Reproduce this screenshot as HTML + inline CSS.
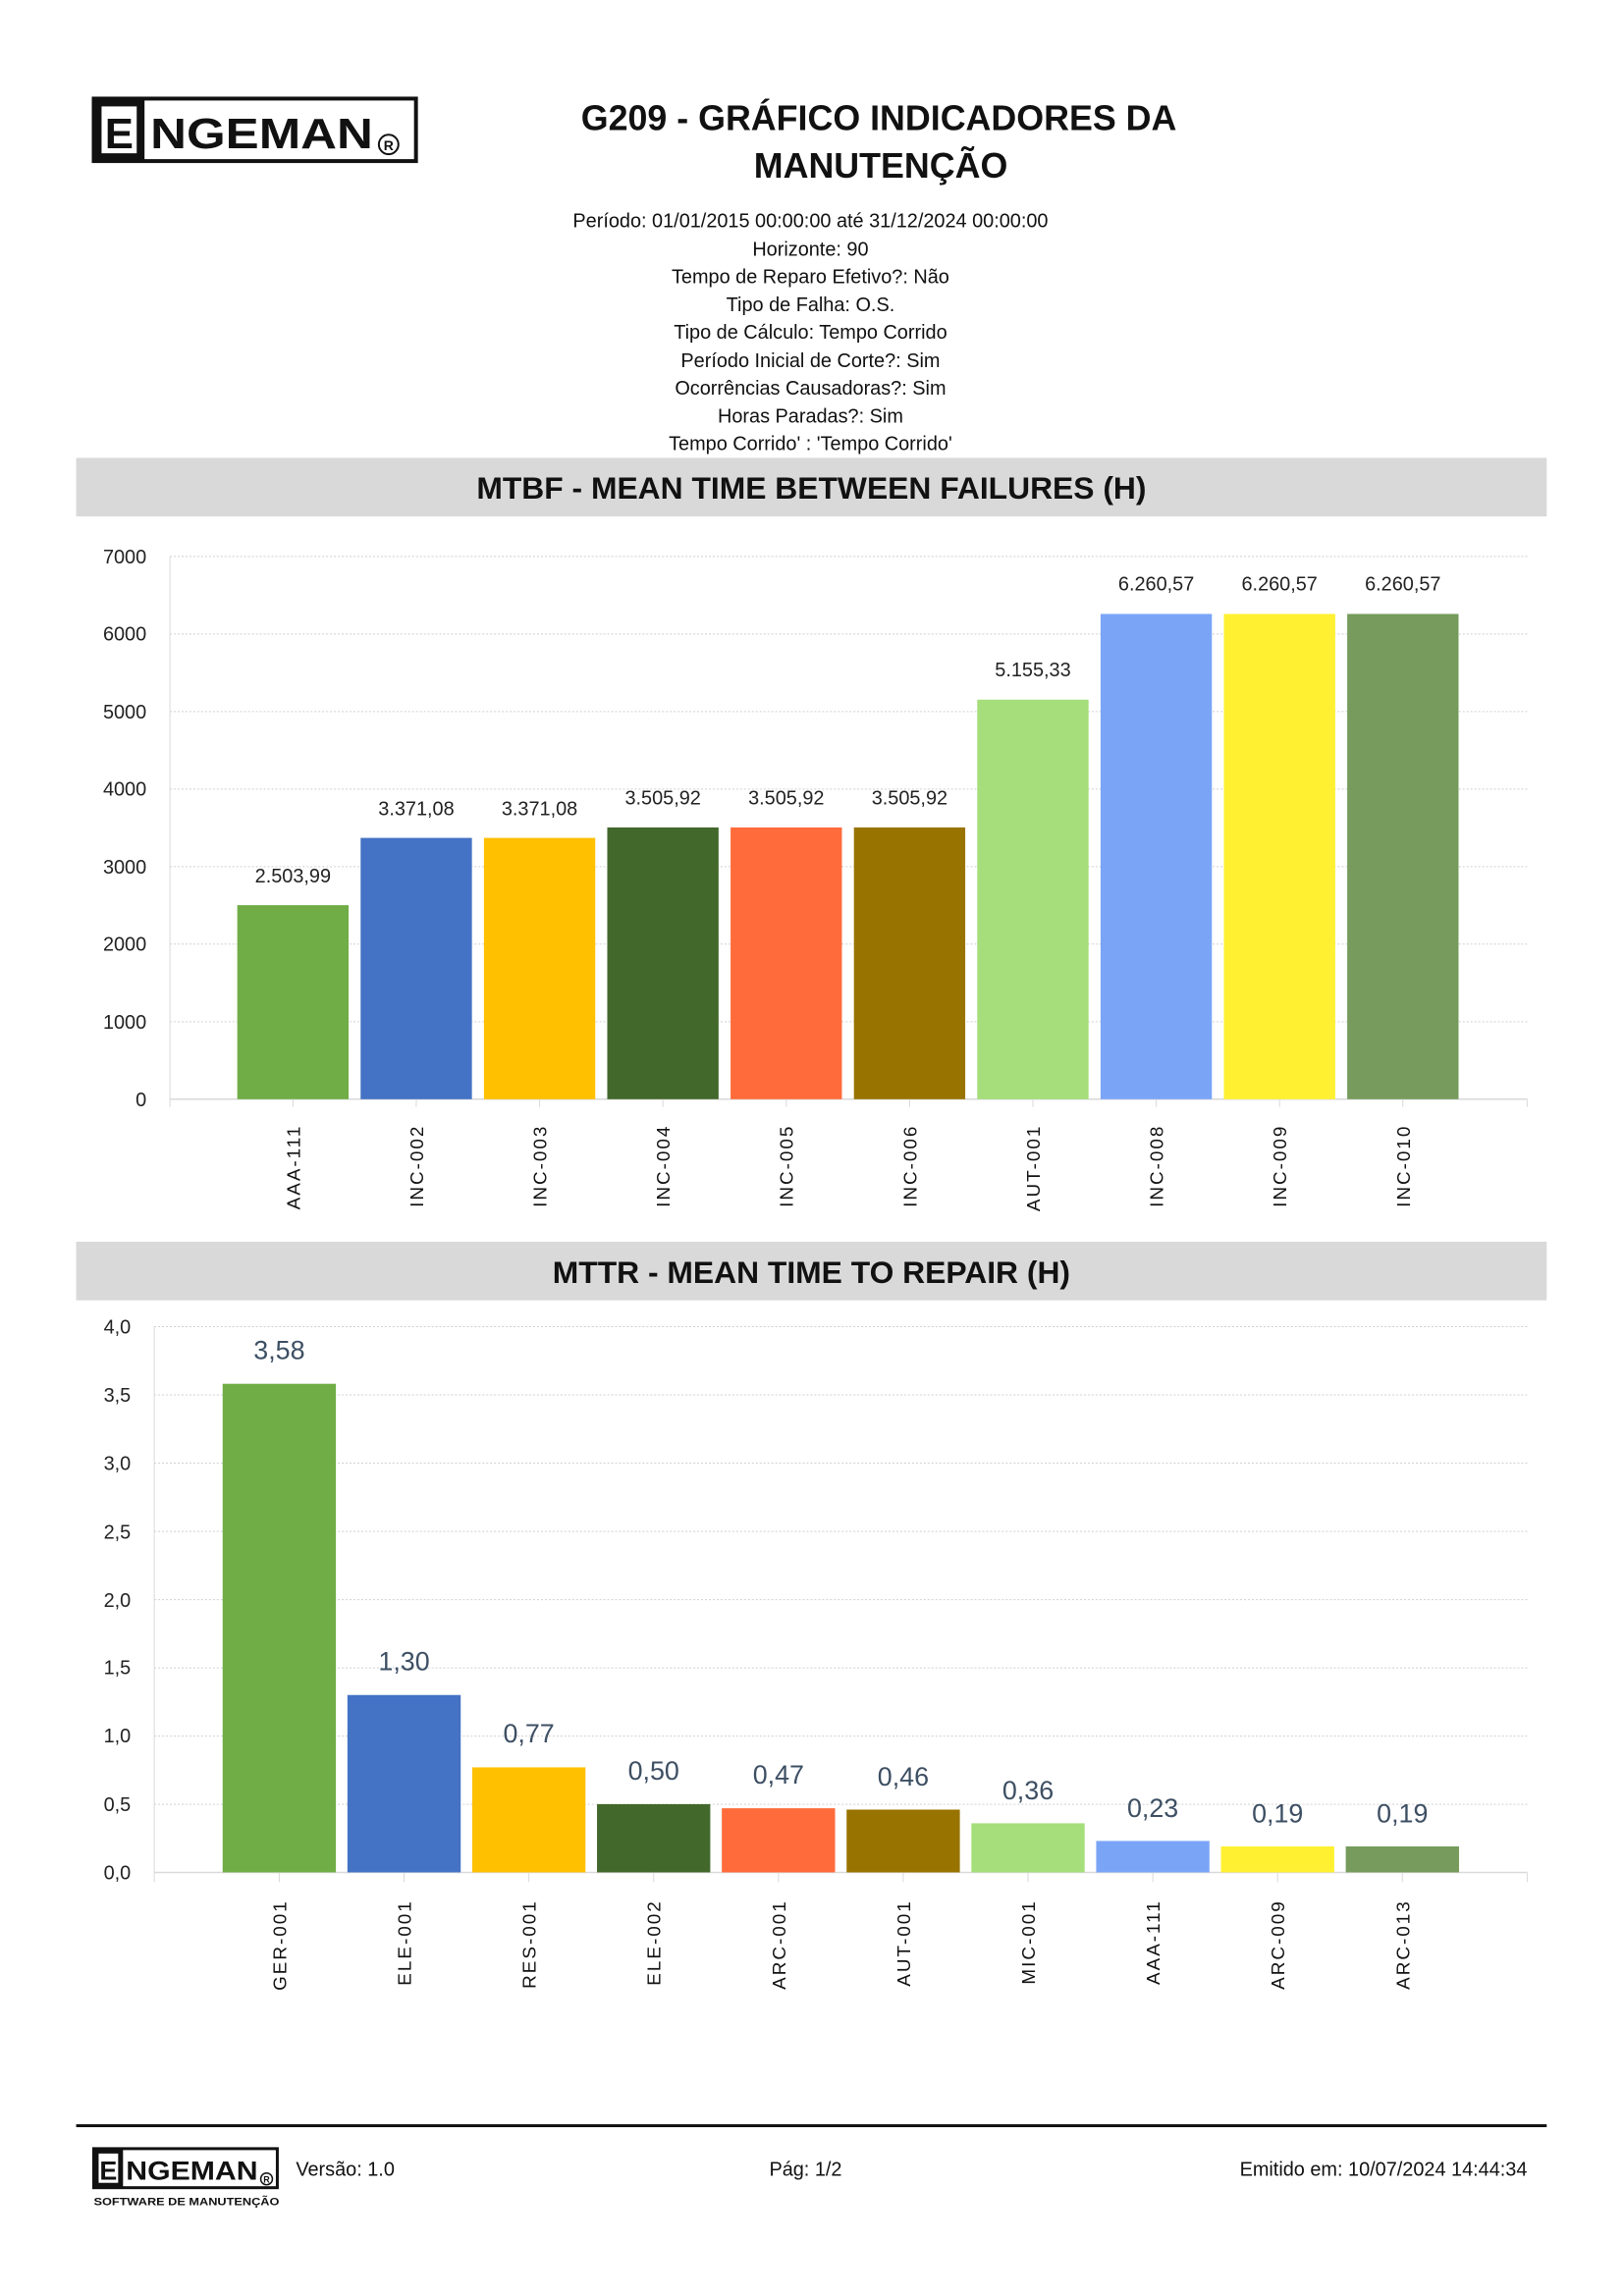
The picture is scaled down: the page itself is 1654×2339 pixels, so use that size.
<!DOCTYPE html>
<html><head><meta charset="utf-8"><style>
html,body{margin:0;padding:0;background:#fff}
svg{display:block}
text{font-family:"Liberation Sans",sans-serif}
</style></head><body>
<svg width="1654" height="2339" viewBox="0 0 1654 2339" xmlns="http://www.w3.org/2000/svg">
<g transform="scale(0.9945)">
<!-- Logo -->
<rect x="96" y="101" width="330" height="64" fill="#fff" stroke="#111" stroke-width="4"/>
<rect x="96" y="101" width="52" height="64" fill="#111"/>
<rect x="104" y="109" width="36" height="48" fill="#fff"/>
<text x="122" y="152" font-size="44" font-weight="bold" text-anchor="middle" fill="#111">E</text>
<text x="154" y="152" font-size="44" font-weight="bold" fill="#111" textLength="228" lengthAdjust="spacingAndGlyphs">NGEMAN</text>
<circle cx="398" cy="148" r="10" fill="none" stroke="#111" stroke-width="2"/>
<text x="398" y="154" font-size="14" font-weight="bold" text-anchor="middle" fill="#111">R</text>

<!-- Title -->
<text x="900" y="133" font-size="36" font-weight="bold" text-anchor="middle" fill="#111">G209 - GRÁFICO INDICADORES DA</text>
<text x="902" y="182" font-size="36" font-weight="bold" text-anchor="middle" fill="#111">MANUTENÇÃO</text>
<g font-size="20" text-anchor="middle" fill="#111">
<text x="830" y="233">Período: 01/01/2015 00:00:00  até  31/12/2024 00:00:00</text>
<text x="830" y="262">Horizonte: 90</text>
<text x="830" y="290">Tempo de Reparo Efetivo?: Não</text>
<text x="830" y="319">Tipo de Falha: O.S.</text>
<text x="830" y="347">Tipo de Cálculo: Tempo Corrido</text>
<text x="830" y="376">Período Inicial de Corte?: Sim</text>
<text x="830" y="404">Ocorrências Causadoras?: Sim</text>
<text x="830" y="433">Horas Paradas?: Sim</text>
<text x="830" y="461">Tempo Corrido' : 'Tempo Corrido'</text>
</g>

<!-- MTBF band -->
<rect x="78" y="469" width="1506" height="60" fill="#d9d9d9"/>
<text x="831" y="511" font-size="32" font-weight="bold" text-anchor="middle" fill="#111">MTBF - MEAN TIME BETWEEN FAILURES (H)</text>

<!-- Chart 1 grid -->
<g stroke="#d0d0d0" stroke-width="1" stroke-dasharray="2,2">
<line x1="174" x2="1564" y1="570" y2="570"/>
<line x1="174" x2="1564" y1="649.4" y2="649.4"/>
<line x1="174" x2="1564" y1="728.9" y2="728.9"/>
<line x1="174" x2="1564" y1="808.3" y2="808.3"/>
<line x1="174" x2="1564" y1="887.7" y2="887.7"/>
<line x1="174" x2="1564" y1="967.1" y2="967.1"/>
<line x1="174" x2="1564" y1="1046.6" y2="1046.6"/>
</g>
<line x1="174" x2="174" y1="570" y2="1134" stroke="#d9d9d9"/>
<line x1="174" x2="1564" y1="1126" y2="1126" stroke="#d9d9d9" stroke-width="1.5"/>
<line x1="1564" x2="1564" y1="1126" y2="1134" stroke="#d9d9d9"/>
<g font-size="20" text-anchor="end" fill="#222">
<text x="150" y="577">7000</text>
<text x="150" y="656">6000</text>
<text x="150" y="736">5000</text>
<text x="150" y="815">4000</text>
<text x="150" y="895">3000</text>
<text x="150" y="974">2000</text>
<text x="150" y="1054">1000</text>
<text x="150" y="1133">0</text>
</g>
<g>
<rect x="243" y="927.2" width="114" height="198.8" fill="#70ad47"/>
<rect x="369.3" y="858.3" width="114" height="267.7" fill="#4472c4"/>
<rect x="495.6" y="858.3" width="114" height="267.7" fill="#ffc000"/>
<rect x="621.9" y="847.6" width="114" height="278.4" fill="#43682b"/>
<rect x="748.2" y="847.6" width="114" height="278.4" fill="#ff6b3b"/>
<rect x="874.5" y="847.6" width="114" height="278.4" fill="#997300"/>
<rect x="1000.8" y="716.7" width="114" height="409.3" fill="#a5de7a"/>
<rect x="1127.1" y="628.9" width="114" height="497.1" fill="#7aa5f7"/>
<rect x="1253.4" y="628.9" width="114" height="497.1" fill="#fff032"/>
<rect x="1379.7" y="628.9" width="114" height="497.1" fill="#769b5c"/>
</g>
<g stroke="#d9d9d9"><line x1="300" x2="300" y1="1126" y2="1134"/><line x1="426.3" x2="426.3" y1="1126" y2="1134"/><line x1="552.6" x2="552.6" y1="1126" y2="1134"/><line x1="678.9" x2="678.9" y1="1126" y2="1134"/><line x1="805.2" x2="805.2" y1="1126" y2="1134"/><line x1="931.5" x2="931.5" y1="1126" y2="1134"/><line x1="1057.8" x2="1057.8" y1="1126" y2="1134"/><line x1="1184.1" x2="1184.1" y1="1126" y2="1134"/><line x1="1310.4" x2="1310.4" y1="1126" y2="1134"/><line x1="1436.7" x2="1436.7" y1="1126" y2="1134"/></g>
<g font-size="20" text-anchor="middle" fill="#222">
<text x="300" y="904">2.503,99</text>
<text x="426.3" y="835">3.371,08</text>
<text x="552.6" y="835">3.371,08</text>
<text x="678.9" y="824">3.505,92</text>
<text x="805.2" y="824">3.505,92</text>
<text x="931.5" y="824">3.505,92</text>
<text x="1057.8" y="693">5.155,33</text>
<text x="1184.1" y="605">6.260,57</text>
<text x="1310.4" y="605">6.260,57</text>
<text x="1436.7" y="605">6.260,57</text>
</g>
<g font-size="19" text-anchor="end" fill="#111" letter-spacing="2">
<text transform="translate(307,1152) rotate(-90)">AAA-111</text>
<text transform="translate(433.3,1152) rotate(-90)">INC-002</text>
<text transform="translate(559.6,1152) rotate(-90)">INC-003</text>
<text transform="translate(685.9,1152) rotate(-90)">INC-004</text>
<text transform="translate(812.2,1152) rotate(-90)">INC-005</text>
<text transform="translate(938.5,1152) rotate(-90)">INC-006</text>
<text transform="translate(1064.8,1152) rotate(-90)">AUT-001</text>
<text transform="translate(1191.1,1152) rotate(-90)">INC-008</text>
<text transform="translate(1317.4,1152) rotate(-90)">INC-009</text>
<text transform="translate(1443.7,1152) rotate(-90)">INC-010</text>
</g>

<!-- MTTR band -->
<rect x="78" y="1272" width="1506" height="60" fill="#d9d9d9"/>
<text x="831" y="1314" font-size="32" font-weight="bold" text-anchor="middle" fill="#111">MTTR - MEAN TIME TO REPAIR (H)</text>

<!-- Chart 2 grid -->
<g stroke="#d0d0d0" stroke-width="1" stroke-dasharray="2,2">
<line x1="158" x2="1564" y1="1359" y2="1359"/>
<line x1="158" x2="1564" y1="1428.9" y2="1428.9"/>
<line x1="158" x2="1564" y1="1498.8" y2="1498.8"/>
<line x1="158" x2="1564" y1="1568.7" y2="1568.7"/>
<line x1="158" x2="1564" y1="1638.6" y2="1638.6"/>
<line x1="158" x2="1564" y1="1708.5" y2="1708.5"/>
<line x1="158" x2="1564" y1="1778.4" y2="1778.4"/>
<line x1="158" x2="1564" y1="1848.3" y2="1848.3"/>
</g>
<line x1="158" x2="158" y1="1359" y2="1928" stroke="#d9d9d9"/>
<line x1="158" x2="1564" y1="1918" y2="1918" stroke="#d9d9d9" stroke-width="1.5"/>
<line x1="1564" x2="1564" y1="1918" y2="1928" stroke="#d9d9d9"/>
<g font-size="20" text-anchor="end" fill="#222">
<text x="134" y="1366">4,0</text>
<text x="134" y="1436">3,5</text>
<text x="134" y="1506">3,0</text>
<text x="134" y="1576">2,5</text>
<text x="134" y="1646">2,0</text>
<text x="134" y="1715">1,5</text>
<text x="134" y="1785">1,0</text>
<text x="134" y="1855">0,5</text>
<text x="134" y="1925">0,0</text>
</g>
<g>
<rect x="228" y="1417.5" width="116" height="500.5" fill="#70ad47"/>
<rect x="355.8" y="1736.3" width="116" height="181.7" fill="#4472c4"/>
<rect x="483.6" y="1810.4" width="116" height="107.6" fill="#ffc000"/>
<rect x="611.4" y="1848.1" width="116" height="69.9" fill="#43682b"/>
<rect x="739.2" y="1852.3" width="116" height="65.7" fill="#ff6b3b"/>
<rect x="867" y="1853.7" width="116" height="64.3" fill="#997300"/>
<rect x="994.8" y="1867.7" width="116" height="50.3" fill="#a5de7a"/>
<rect x="1122.6" y="1885.8" width="116" height="32.2" fill="#7aa5f7"/>
<rect x="1250.4" y="1891.4" width="116" height="26.6" fill="#fff032"/>
<rect x="1378.2" y="1891.4" width="116" height="26.6" fill="#769b5c"/>
</g>
<g stroke="#d9d9d9"><line x1="286" x2="286" y1="1918" y2="1928"/><line x1="413.8" x2="413.8" y1="1918" y2="1928"/><line x1="541.6" x2="541.6" y1="1918" y2="1928"/><line x1="669.4" x2="669.4" y1="1918" y2="1928"/><line x1="797.2" x2="797.2" y1="1918" y2="1928"/><line x1="925" x2="925" y1="1918" y2="1928"/><line x1="1052.8" x2="1052.8" y1="1918" y2="1928"/><line x1="1180.6" x2="1180.6" y1="1918" y2="1928"/><line x1="1308.4" x2="1308.4" y1="1918" y2="1928"/><line x1="1436.2" x2="1436.2" y1="1918" y2="1928"/></g>
<g font-size="27" text-anchor="middle" fill="#3d4f63">
<text x="286" y="1392">3,58</text>
<text x="413.8" y="1711">1,30</text>
<text x="541.6" y="1785">0,77</text>
<text x="669.4" y="1823">0,50</text>
<text x="797.2" y="1827">0,47</text>
<text x="925" y="1829">0,46</text>
<text x="1052.8" y="1843">0,36</text>
<text x="1180.6" y="1861">0,23</text>
<text x="1308.4" y="1867">0,19</text>
<text x="1436.2" y="1867">0,19</text>
</g>
<g font-size="19" text-anchor="end" fill="#111" letter-spacing="2">
<text transform="translate(293,1946) rotate(-90)">GER-001</text>
<text transform="translate(420.8,1946) rotate(-90)">ELE-001</text>
<text transform="translate(548.6,1946) rotate(-90)">RES-001</text>
<text transform="translate(676.4,1946) rotate(-90)">ELE-002</text>
<text transform="translate(804.2,1946) rotate(-90)">ARC-001</text>
<text transform="translate(932,1946) rotate(-90)">AUT-001</text>
<text transform="translate(1059.8,1946) rotate(-90)">MIC-001</text>
<text transform="translate(1187.6,1946) rotate(-90)">AAA-111</text>
<text transform="translate(1315.4,1946) rotate(-90)">ARC-009</text>
<text transform="translate(1443.2,1946) rotate(-90)">ARC-013</text>
</g>

<!-- Footer -->
<rect x="78" y="2176" width="1506" height="3" fill="#111"/>
<rect x="96" y="2201" width="188" height="40" fill="#fff" stroke="#111" stroke-width="3"/>
<rect x="96" y="2201" width="30" height="40" fill="#111"/>
<rect x="101" y="2206" width="20" height="30" fill="#fff"/>
<text x="111" y="2233" font-size="27" font-weight="bold" text-anchor="middle" fill="#111">E</text>
<text x="129" y="2233" font-size="27" font-weight="bold" fill="#111" textLength="135" lengthAdjust="spacingAndGlyphs">NGEMAN</text>
<circle cx="273" cy="2232" r="6" fill="none" stroke="#111" stroke-width="1.5"/>
<text x="273" y="2236" font-size="9" font-weight="bold" text-anchor="middle" fill="#111">R</text>
<text x="96" y="2259" font-size="11" font-weight="bold" fill="#111" textLength="190" lengthAdjust="spacingAndGlyphs">SOFTWARE DE MANUTENÇÃO</text>
<text x="303" y="2229" font-size="20" fill="#111">Versão: 1.0</text>
<text x="825" y="2229" font-size="20" text-anchor="middle" fill="#111">Pág: 1/2</text>
<text x="1564" y="2229" font-size="20" text-anchor="end" fill="#111">Emitido em: 10/07/2024 14:44:34</text>
</g>
</svg>
</body></html>
